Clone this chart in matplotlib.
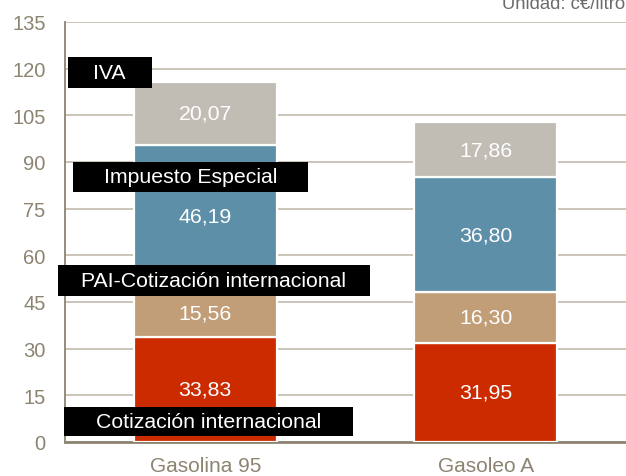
import matplotlib.pyplot as plt
from matplotlib.patches import Rectangle
import numpy as np

plt.rcParams['font.family'] = ['Liberation Sans', 'DejaVu Sans']

# Datos (c€/litro)
categorias = ['Gasolina 95', 'Gasoleo A']
componentes = ['Cotización internacional', 'PAI-Cotización internacional',
               'Impuesto Especial', 'IVA']
cotizacion = [33.83, 31.95]
pai = [15.56, 16.30]
impuesto = [46.19, 36.80]
iva = [20.07, 17.86]
colores = ['#CC2B00', '#C19E78', '#5E8FA9', '#C1BDB5']

# Cajas de etiqueta: (x0, x1, y0, y1) en coordenadas de datos
cajas = [
    (-0.504, 0.526, 1.9, 11.25),
    (-0.526, 0.587, 46.9, 56.9),
    (-0.472, 0.365, 80.4, 90.0),
    (-0.490, -0.191, 113.8, 123.8),
]

eje_color = '#8C8471'
grid_color = '#C6C0B2'

fig = plt.figure(figsize=(6.26, 4.77), dpi=100)
ax = fig.add_axes([0.1038, 0.0713, 0.8962, 0.8805])

x = np.arange(len(categorias))
series = [cotizacion, pai, impuesto, iva]
base = np.zeros(len(categorias))
for valores, color in zip(series, colores):
    valores = np.array(valores)
    barras = ax.bar(x, valores, bottom=base, width=0.51, color=color,
                    edgecolor='white', linewidth=1.6, zorder=3)
    for b, v, y0 in zip(barras, valores, base):
        ax.text(b.get_x() + b.get_width() / 2, y0 + v / 2,
                f'{v:.2f}'.replace('.', ','), ha='center', va='center',
                color='white', fontsize=15.3, zorder=4)
    base = base + valores

# Etiquetas de componentes en cajas negras
for nombre, (x0, x1, y0, y1) in zip(componentes, cajas):
    ax.add_patch(Rectangle((x0, y0), x1 - x0, y1 - y0, facecolor='black',
                           edgecolor='none', zorder=5, clip_on=False))
    ax.text((x0 + x1) / 2, (y0 + y1) / 2, nombre, ha='center', va='center',
            color='white', fontsize=15.3, zorder=6, clip_on=False)

ax.set_xlim(-0.5, 1.5)
ax.set_ylim(0, 135)
ax.set_yticks(np.arange(0, 136, 15))
ax.set_xticks(x)
ax.set_xticklabels(categorias)
ax.yaxis.grid(True, color=grid_color, linewidth=1.3, zorder=1)
ax.set_axisbelow(True)

for lado in ['top', 'right']:
    ax.spines[lado].set_visible(False)
ax.spines['left'].set_color(eje_color)
ax.spines['left'].set_linewidth(1.3)
ax.spines['bottom'].set_color(eje_color)
ax.spines['bottom'].set_linewidth(2)
ax.tick_params(axis='both', length=0, colors=eje_color)
ax.tick_params(axis='y', pad=14, labelsize=14.5)
ax.tick_params(axis='x', pad=10, labelsize=15)

fig.text(0.998, 0.982, 'Unidad: c€/litro', ha='right', va='baseline',
         color='#6B6B6B', fontsize=13.3)

fig.savefig('out.png', dpi=100, facecolor='white')
